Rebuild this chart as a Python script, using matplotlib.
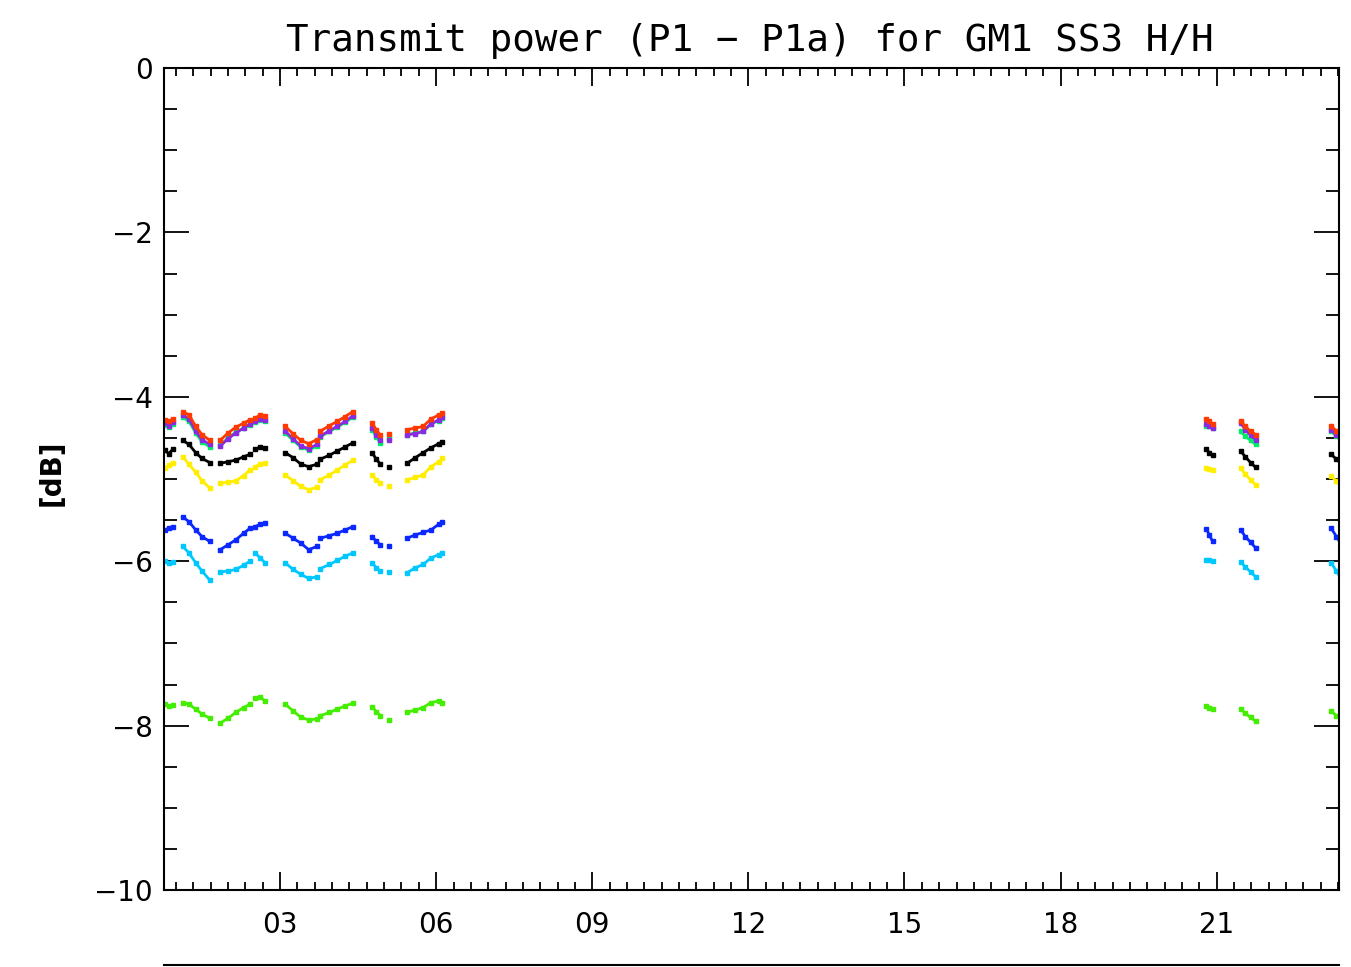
import numpy as np
import matplotlib
matplotlib.use('Agg')
from matplotlib import pyplot as plt
from matplotlib.lines import Line2D
from matplotlib.ticker import MultipleLocator, FixedLocator

N = np.nan

# hour of day, NaN breaks the trace between passes
hours = [0.78, 0.86, 0.94, N,
         1.13, 1.25, 1.38, 1.50, 1.65, N,
         1.85, 2.00, 2.15, 2.30, 2.42, N,
         2.52, 2.62, 2.71, N,
         3.10, 3.25, 3.40, 3.55, 3.71, N,
         3.77, 3.95, 4.10, 4.25, 4.40, N,
         4.77, 4.85, 4.93, N, 5.10, N,
         5.44, 5.60, 5.75, 5.90, 6.05, 6.12, N,
         20.80, 20.86, 20.92, N,
         21.46, 21.55, 21.65, 21.75, N,
         23.20, 23.30, 23.40]

red = [-4.28, -4.30, -4.27, N,
       -4.18, -4.22, -4.36, -4.46, -4.53, N,
       -4.53, -4.44, -4.37, -4.32, -4.28, N,
       -4.26, -4.22, -4.23, N,
       -4.36, -4.45, -4.53, -4.57, -4.52, N,
       -4.42, -4.35, -4.30, -4.24, -4.18, N,
       -4.32, -4.40, -4.47, N, -4.45, N,
       -4.40, -4.38, -4.36, -4.27, -4.22, -4.20, N,
       -4.27, -4.30, -4.33, N,
       -4.30, -4.36, -4.42, -4.46, N,
       -4.35, -4.42, -4.48]

purple = [-4.32, -4.35, -4.31, N,
          -4.22, -4.27, -4.42, -4.52, -4.58, N,
          -4.60, -4.51, -4.44, -4.38, -4.33, N,
          -4.30, -4.27, -4.28, N,
          -4.42, -4.51, -4.60, -4.63, -4.58, N,
          -4.48, -4.41, -4.36, -4.30, -4.23, N,
          -4.38, -4.46, -4.53, N, -4.52, N,
          -4.46, -4.45, -4.42, -4.33, -4.28, -4.25, N,
          -4.33, -4.35, -4.38, N,
          -4.32, -4.40, -4.47, -4.52, N,
          -4.40, -4.47, -4.53]

green = [-4.34, -4.37, -4.33, N,
         -4.25, -4.30, -4.44, -4.55, -4.61, N,
         -4.59, -4.50, -4.43, -4.38, -4.34, N,
         -4.31, -4.28, -4.29, N,
         -4.44, -4.53, -4.61, -4.65, -4.60, N,
         -4.49, -4.42, -4.37, -4.31, -4.25, N,
         -4.40, -4.49, -4.56, N, -4.50, N,
         -4.46, -4.44, -4.42, -4.33, -4.29, -4.26, N,
         -4.35, -4.36, -4.38, N,
         -4.42, -4.48, -4.53, -4.58, N,
         -4.42, -4.48, -4.54]

black = [-4.65, -4.69, -4.64, N,
         -4.53, -4.58, -4.68, -4.75, -4.80, N,
         -4.81, -4.79, -4.77, -4.73, -4.70, N,
         -4.64, -4.61, -4.62, N,
         -4.68, -4.74, -4.82, -4.85, -4.82, N,
         -4.76, -4.71, -4.66, -4.61, -4.56, N,
         -4.68, -4.76, -4.82, N, -4.85, N,
         -4.81, -4.74, -4.68, -4.62, -4.57, -4.55, N,
         -4.64, -4.68, -4.71, N,
         -4.66, -4.73, -4.80, -4.86, N,
         -4.70, -4.76, -4.82]

yellow = [-4.87, -4.83, -4.80, N,
          -4.73, -4.82, -4.92, -5.02, -5.11, N,
          -5.05, -5.04, -5.02, -4.96, -4.89, N,
          -4.85, -4.82, -4.81, N,
          -4.95, -5.02, -5.09, -5.13, -5.10, N,
          -5.01, -4.95, -4.89, -4.83, -4.77, N,
          -4.95, -5.01, -5.05, N, -5.09, N,
          -5.01, -4.98, -4.95, -4.85, -4.79, -4.75, N,
          -4.87, -4.88, -4.89, N,
          -4.87, -4.94, -5.01, -5.07, N,
          -4.96, -5.03, -5.10]

blue = [-5.62, -5.60, -5.58, N,
        -5.46, -5.52, -5.62, -5.70, -5.76, N,
        -5.86, -5.80, -5.74, -5.66, -5.60, N,
        -5.58, -5.55, -5.54, N,
        -5.66, -5.72, -5.78, -5.86, -5.82, N,
        -5.72, -5.69, -5.66, -5.62, -5.58, N,
        -5.70, -5.76, -5.80, N, -5.82, N,
        -5.72, -5.68, -5.65, -5.62, -5.55, -5.52, N,
        -5.61, -5.68, -5.76, N,
        -5.62, -5.70, -5.77, -5.84, N,
        -5.60, -5.70, -5.80]

cyan = [-6.00, -6.02, -6.01, N,
        -5.82, -5.90, -6.02, -6.12, -6.23, N,
        -6.13, -6.12, -6.10, -6.05, -6.00, N,
        -5.90, -5.96, -6.02, N,
        -6.02, -6.10, -6.16, -6.21, -6.19, N,
        -6.09, -6.04, -5.99, -5.94, -5.90, N,
        -6.02, -6.08, -6.12, N, -6.13, N,
        -6.14, -6.08, -6.04, -5.96, -5.92, -5.90, N,
        -5.98, -5.99, -6.00, N,
        -6.01, -6.07, -6.13, -6.19, N,
        -6.02, -6.12, -6.22]

lime = [-7.74, -7.76, -7.75, N,
        -7.72, -7.74, -7.80, -7.86, -7.91, N,
        -7.97, -7.91, -7.84, -7.78, -7.74, N,
        -7.67, -7.65, -7.70, N,
        -7.74, -7.82, -7.90, -7.93, -7.92, N,
        -7.88, -7.84, -7.80, -7.76, -7.73, N,
        -7.77, -7.83, -7.88, N, -7.93, N,
        -7.84, -7.81, -7.78, -7.72, -7.70, -7.73, N,
        -7.76, -7.78, -7.80, N,
        -7.80, -7.85, -7.90, -7.95, N,
        -7.82, -7.88, -7.92]

series = [
    (lime, '#44ee00'),
    (cyan, '#00c8ff'),
    (blue, '#0a28ff'),
    (yellow, '#ffee00'),
    (black, '#000000'),
    (green, '#00ee66'),
    (purple, '#8a2be2'),
    (red, '#ff3a00'),
]

xticks = [3, 6, 9, 12, 15, 18, 21]
xticklabels = ['03', '06', '09', '12', '15', '18', '21']
yticks = [0, -2, -4, -6, -8, -10]
yticklabels = ['0', '\u22122', '\u22124', '\u22126', '\u22128', '\u221210']


fig = plt.figure(figsize=(13.51, 9.67), dpi=100)
ax = fig.add_axes([164 / 1351, 1 - 890 / 967, (1339 - 164) / 1351, (890 - 68) / 967])

for vals, col in series:
    ax.plot(hours, vals, color=col, lw=2.0, marker='s', ms=2.8,
            mec=col, mfc=col)

ax.set_xlim(0.77, 23.35)
ax.set_ylim(-10, 0)

ax.xaxis.set_major_locator(FixedLocator(xticks))
ax.set_xticklabels(xticklabels)
ax.xaxis.set_minor_locator(MultipleLocator(1 / 3))
ax.yaxis.set_major_locator(FixedLocator(yticks))
ax.set_yticklabels(yticklabels)
ax.yaxis.set_minor_locator(MultipleLocator(0.5))

ax.tick_params(axis='x', which='major', direction='in', length=13, width=1.3,
               top=True, bottom=True, labelsize=20, pad=15)
ax.tick_params(axis='x', which='minor', direction='in', length=5.5, width=1.3,
               top=True, bottom=True)
ax.tick_params(axis='y', which='major', direction='in', length=18, width=1.3,
               left=True, right=True, labelsize=20, pad=8)
ax.tick_params(axis='y', which='minor', direction='in', length=9.5, width=1.3,
               left=True, right=True)
for sp in ax.spines.values():
    sp.set_linewidth(1.5)

fig.text(750 / 1351, 1 - 41 / 967, 'Transmit power (P1 \u2212 P1a) for GM1 SS3 H/H',
         fontsize=27, family='DejaVu Sans Mono', ha='center', va='center')
fig.text(52 / 1351, 1 - 473 / 967, '[dB]', rotation=90, fontsize=20,
         fontweight='bold', ha='center', va='center')

# top edge of the panel below
fig.add_artist(Line2D([164 / 1351, 1339 / 1351], [1 - 965 / 967] * 2,
                      transform=fig.transFigure, color='black', lw=1.5))

fig.savefig('out.png', dpi=100)
